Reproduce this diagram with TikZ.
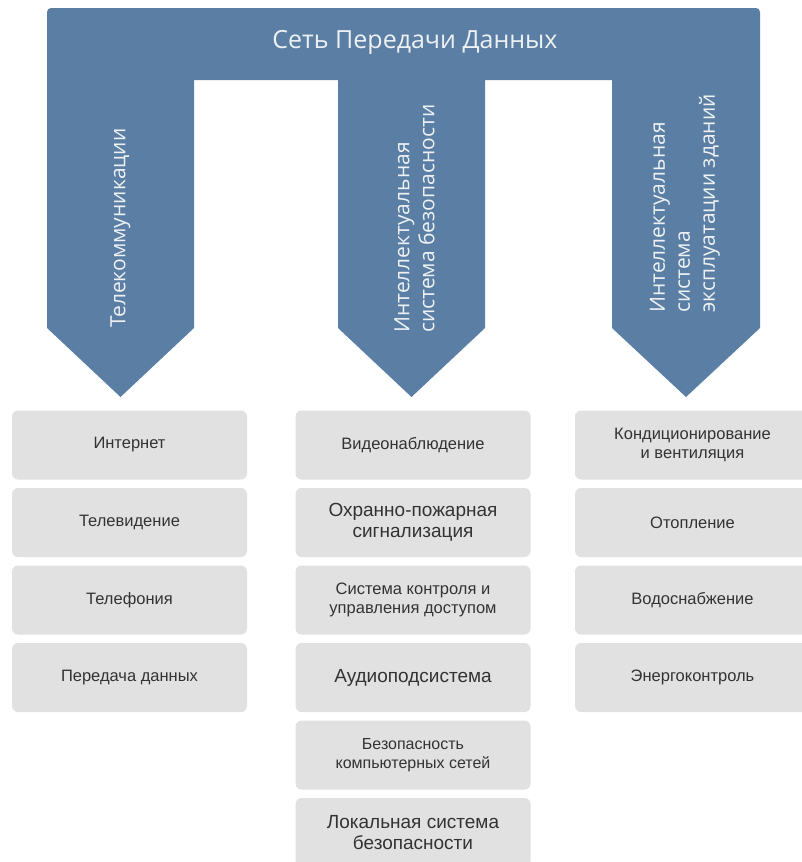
\documentclass[tikz,border=0pt]{standalone}
\usepackage{fontspec}
\setmainfont{Liberation Sans}
\newfontfamily\headfont{Open Sans}
\usepackage{tikz}
\usetikzlibrary{calc,positioning}
\definecolor{bandblue}{HTML}{5B7FA4}
\definecolor{boxgray}{HTML}{E1E1E1}
\definecolor{boxtext}{HTML}{333333}
\definecolor{headtext}{HTML}{EEF1F4}
\tikzset{
	item/.style={fill=boxgray, rounded corners=6pt, minimum width=235pt, minimum height=69pt,
		inner sep=0pt, align=center, text=boxtext, font=\fontsize{16.5}{19}\selectfont},
	itembig/.style={item, font=\fontsize{19}{21}\selectfont},
	itemsmall/.style={item, font=\fontsize{16}{18.5}\selectfont},
	vlabel/.style={rotate=90, anchor=west, inner sep=0pt, align=left, text=headtext,
		font=\headfont\fontsize{21}{25}\selectfont}
}

\begin{document}
\begin{tikzpicture}[x=1pt, y=-1pt]
	\useasboundingbox (0,0) rectangle (802,862);
	\clip (0,0) rectangle (802,862);
	% blue band
	\fill[bandblue] (47,150) [rounded corners=4pt] -- (47,8) -- (760,8) -- (760,150) [sharp corners]
		-- (760,328) -- (686,397) -- (612,328) -- (612,80) -- (485,80) -- (485,328)
		-- (411.5,397) -- (338,328) -- (338,80) -- (194,80) -- (194,328)
		-- (120.5,397) -- (47,328) -- cycle;
	\node[text=headtext, font=\headfont\fontsize{25}{30}\selectfont] (net) at (415,42) {Сеть Передачи Данных};
	\node[vlabel] (tele) at (120.5,328) {Телекоммуникации};
	\node[vlabel] (secu) at (414.5,333) {Интеллектуальная\\система безопасности};
	\node[vlabel] (bldg) at (685,313) {Интеллектуальная\\система\\эксплуатации зданий};
	% first column
	\coordinate (T) at (129.5,445);
	\node[item] (tele1) at (T) {Интернет};
	\node[item] (tele2) at ($(T)+(0,77.5)$) {Телевидение};
	\node[item] (tele3) at ($(T)+(0,155)$) {Телефония};
	\node[item] (tele4) at ($(T)+(0,232.5)$) {Передача данных};
	% second column
	\coordinate (S) at (413,445);
	\node[item] (secu1) at (S) {Видеонаблюдение};
	\node[itembig] (secu2) at ($(S)+(0,77.5)$) {Охранно-пожарная\\сигнализация};
	\node[item] (secu3) at ($(S)+(0,155)$) {Система контроля и\\управления доступом};
	\node[itembig] (secu4) at ($(S)+(0,232.5)$) {Аудиоподсистема};
	\node[itemsmall] (secu5) at ($(S)+(0,310)$) {Безопасность\\компьютерных сетей};
	\node[itembig] (secu6) at ($(S)+(0,387.5)$) {Локальная система\\безопасности};
	% third column
	\coordinate (B) at (692.5,445);
	\node[item] (bldg1) at (B) {Кондиционирование\\и вентиляция};
	\node[item] (bldg2) at ($(B)+(0,77.5)$) {Отопление};
	\node[item] (bldg3) at ($(B)+(0,155)$) {Водоснабжение};
	\node[item] (bldg4) at ($(B)+(0,232.5)$) {Энергоконтроль};
\end{tikzpicture}
\end{document}
